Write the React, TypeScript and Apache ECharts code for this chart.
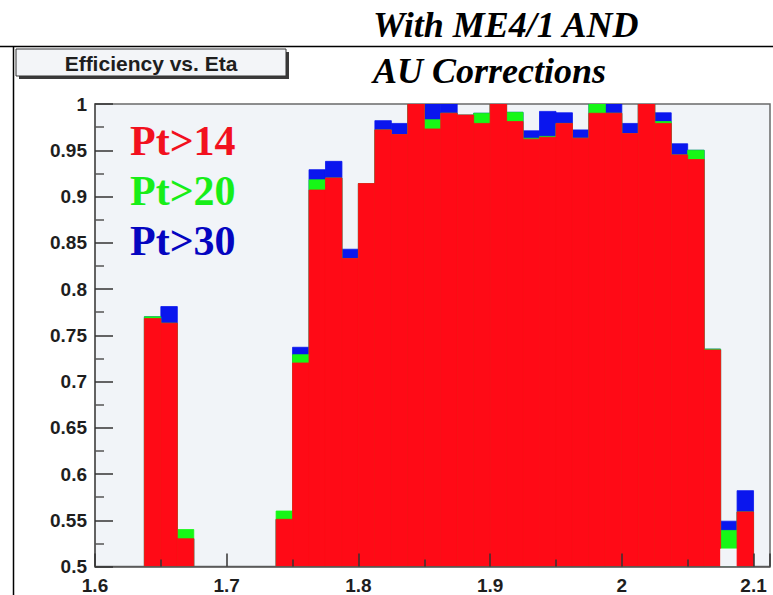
import React, { useEffect, useRef } from "react";
import * as echarts from "echarts";

// Histogram binning (eta)
const firstEdge = 1.6;
const binWidth = 0.0125;

// Efficiency per eta bin (40 bins from 1.6 to 2.1); null = empty bin
const effPt14: (number | null)[] = [
  null, null, null, 0.768, 0.763, 0.53, null, null, null, null,
  null, 0.551, 0.72, 0.907, 0.92, 0.833, 0.914, 0.972, 0.967, 1.0,
  0.973, 0.99, 0.988, 0.979, 1.0, 0.981, 0.962, 0.964, 0.979, 0.963,
  0.99, 0.99, 0.968, 1.0, 0.979, 0.945, 0.94, 0.734, 0.519, 0.559,
];
const effPt20: (number | null)[] = [
  null, null, null, 0.77, 0.763, 0.54, null, null, null, null,
  null, 0.56, 0.729, 0.918, 0.92, 0.833, 0.914, 0.972, 0.967, 1.0,
  0.983, 0.99, 0.988, 0.99, 1.0, 0.991, 0.963, 0.965, 0.979, 0.963,
  1.0, 0.99, 0.968, 1.0, 0.981, 0.945, 0.95, 0.735, 0.539, 0.559,
];
const effPt30: (number | null)[] = [
  null, null, null, 0.77, 0.781, 0.53, null, null, null, null,
  null, 0.551, 0.737, 0.929, 0.938, 0.843, 0.914, 0.982, 0.979, 1.0,
  1.0, 1.0, 0.988, 0.99, 1.0, 0.991, 0.971, 0.992, 0.9905, 0.972,
  1.0, 1.0, 0.979, 1.0, 0.9905, 0.957, 0.95, 0.735, 0.549, 0.582,
];
// Pt>14 bins that show as background (bar hidden below the others)
const pt14HiddenBins = [38];

const seriesNames = ["Pt>30", "Pt>20", "Pt>14"];
const legendLabels = ["Pt>14", "Pt>20", "Pt>30"];
const yTicks = { min: 0.5, max: 1.0, step: 0.05 };
const xTicks = { min: 1.6, max: 2.1125, step: 0.1 };
const titleLines = ["With ME4/1 AND", "AU Corrections"];
const histTitle = "Efficiency vs. Eta";

const RED = "#ff0a16";
const GREEN = "#16f716";
const BLUE = "#0a16ee";
const PLOT_BG = "#f1f4f8";

function toRows(vals: (number | null)[]) {
  const rows: any[] = [];
  vals.forEach((v, i) => {
    if (v == null) return;
    rows.push([firstEdge + binWidth * i, firstEdge + binWidth * (i + 1), v, i]);
  });
  return rows;
}

function makeSeries(name: string, vals: (number | null)[], color: string, hidden: number[]) {
  return {
    type: "custom",
    name,
    data: toRows(vals),
    encode: { x: [0, 1], y: 2 },
    clip: true,
    renderItem: (params: any, api: any) => {
      const x0 = api.value(0);
      const x1 = api.value(1);
      const v = api.value(2);
      const idx = api.value(3);
      const pTop = api.coord([x0, v]);
      const pBot = api.coord([x1, yTicks.min]);
      const fill = hidden.indexOf(idx) >= 0 ? PLOT_BG : color;
      return {
        type: "rect",
        shape: {
          x: pTop[0],
          y: pTop[1],
          width: pBot[0] - pTop[0],
          height: pBot[1] - pTop[1],
        },
        style: { fill, stroke: fill, lineWidth: 0.8 },
      };
    },
  };
}

export default function App() {
  const ref = useRef<HTMLDivElement>(null);
  useEffect(() => {
    if (!ref.current) return;
    const chart = echarts.init(ref.current, undefined, { renderer: "svg" });
    const labelFont = { fontFamily: "Liberation Sans", fontWeight: "bold" as const, fontSize: 19, color: "#1e1e1e" };
    const legendColors = ["#f2101e", "#18ee18", "#0505c0"];
    const legendBase = [141, 191, 241];
    chart.setOption({
      animation: false,
      backgroundColor: "#ffffff",
      grid: {
        show: true,
        left: 95,
        top: 104,
        width: 676.5,
        height: 462.5,
        backgroundColor: PLOT_BG,
        borderColor: "#6a6a6a",
        borderWidth: 1.5,
      },
      xAxis: {
        type: "value",
        min: xTicks.min,
        max: xTicks.max,
        interval: xTicks.step,
        z: 10,
        axisLine: { show: true, lineStyle: { color: "#555", width: 1.5 } },
        axisTick: { show: true, inside: true, length: 13, lineStyle: { color: "#333", width: 1.5 } },
        minorTick: { show: true, splitNumber: 2, length: 7, lineStyle: { color: "#333", width: 1.5 } },
        splitLine: { show: false },
        axisLabel: {
          ...labelFont,
          margin: 9,
          formatter: (v: number) =>
            Math.abs(v * 10 - Math.round(v * 10)) < 1e-6 && v <= 2.1 + 1e-9 ? String(+v.toFixed(1)) : "",
        },
      },
      yAxis: {
        type: "value",
        min: yTicks.min,
        max: yTicks.max,
        interval: yTicks.step,
        z: 10,
        axisLine: { show: true, lineStyle: { color: "#555", width: 1.5 } },
        axisTick: { show: true, inside: true, length: 18, lineStyle: { color: "#333", width: 1.5 } },
        minorTick: { show: true, splitNumber: 2, length: 9, lineStyle: { color: "#555", width: 1.5 } },
        splitLine: { show: false },
        axisLabel: { ...labelFont, margin: 8 },
      },
      series: [
        makeSeries(seriesNames[0], effPt30, BLUE, []),
        makeSeries(seriesNames[1], effPt20, GREEN, []),
        makeSeries(seriesNames[2], effPt14, RED, pt14HiddenBins),
      ],
      graphic: [
        { type: "line", shape: { x1: 0, y1: 46.5, x2: 773, y2: 46.5 }, style: { stroke: "#000", lineWidth: 1.5 } },
        { type: "line", shape: { x1: 13.5, y1: 46, x2: 13.5, y2: 595 }, style: { stroke: "#000", lineWidth: 1.5 } },
        { type: "rect", shape: { x: 19, y: 52, width: 270, height: 27 }, style: { fill: "#3a3a3a" } },
        {
          type: "rect",
          shape: { x: 16, y: 49, width: 270, height: 27 },
          style: { fill: "#f3f5f8", stroke: "#333", lineWidth: 1 },
        },
        {
          type: "text",
          x: 151,
          y: 63,
          style: {
            text: histTitle,
            font: "bold 21px 'Liberation Sans'",
            fill: "#1e1e1e",
            align: "center",
            verticalAlign: "middle",
          },
        },
        ...titleLines.map((t, i) => ({
          type: "text",
          x: 373,
          y: [25, 71][i],
          style: {
            text: t,
            font: "italic bold 36px 'Liberation Serif'",
            fill: "#000",
            align: "left",
            verticalAlign: "middle",
          },
        })),
        ...legendLabels.map((t, i) => ({
          type: "text",
          x: 130,
          y: legendBase[i],
          style: {
            text: t,
            font: "bold 42px 'Liberation Serif'",
            fill: legendColors[i],
            align: "left",
            verticalAlign: "middle",
          },
        })),
      ],
    });
    return () => chart.dispose();
  }, []);
  return (
    <div
      ref={ref}
      style={{ position: "fixed", left: 0, top: 0, width: 773, height: 595, background: "#fff" }}
    />
  );
}
